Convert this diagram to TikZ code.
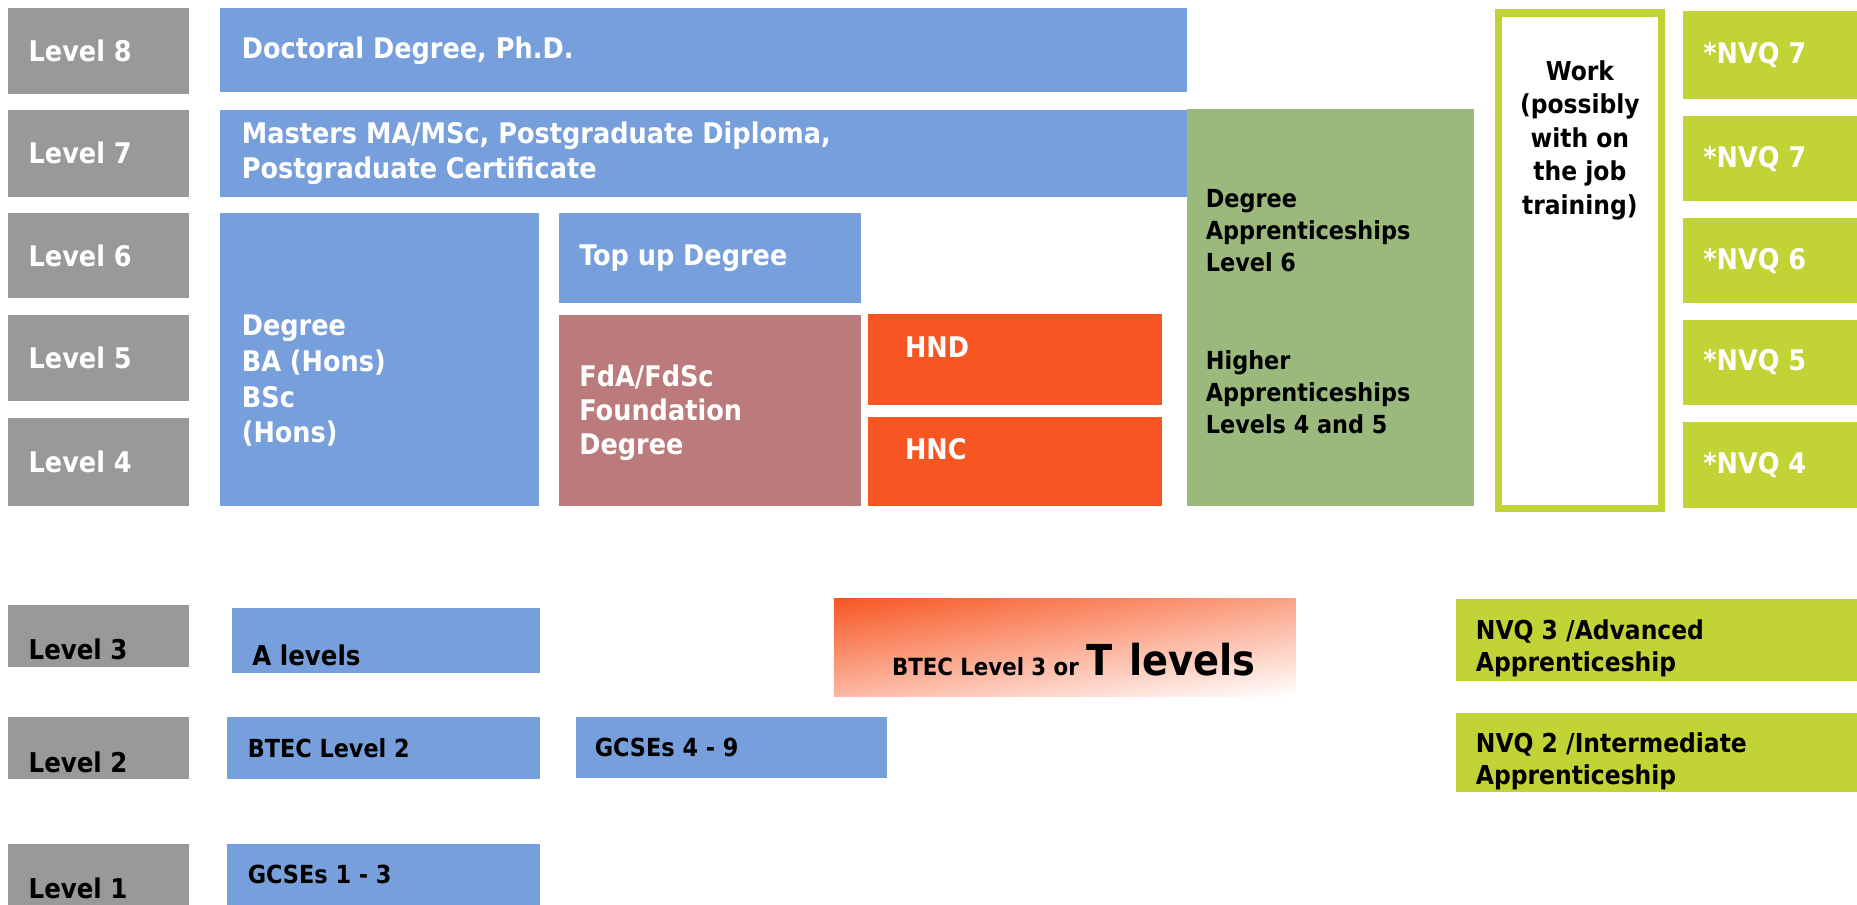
\documentclass[tikz,border=0pt]{standalone}
\usepackage{fontspec}
\setmainfont{DejaVu Sans Condensed Bold}
\usetikzlibrary{shadings}
\definecolor{lvlgrey}{RGB}{153,153,153}
\definecolor{uniblue}{RGB}{118,159,219}
\definecolor{fdmauve}{RGB}{187,122,123}
\definecolor{hnorange}{RGB}{247,86,34}
\definecolor{apprgreen}{RGB}{155,184,125}
\definecolor{nvqlime}{RGB}{194,211,53}

\begin{document}
\begin{tikzpicture}[x=1pt,y=-1pt,
    box/.style={rectangle,anchor=north west,inner sep=0pt,outer sep=0pt},
    lvl/.style={box,fill=lvlgrey,minimum width=153pt},
    lbl/.style={anchor=west,inner sep=0pt,align=left,text=white,
      font=\fontsize{24}{29}\selectfont},
    dlbl/.style={lbl,text=black}]
  \useasboundingbox (0,0) rectangle (1568,764);
  % level column
  \path
    (7,7) node[lvl,minimum height=72pt] (lv8) {}
    (7,93) node[lvl,minimum height=73pt] (lv7) {}
    (7,180) node[lvl,minimum height=72pt] (lv6) {}
    (7,266) node[lvl,minimum height=73pt] (lv5) {}
    (7,353) node[lvl,minimum height=74pt] (lv4) {}
    (7,511) node[lvl,minimum height=52pt] (lv3) {}
    (7,605) node[lvl,minimum height=53pt] (lv2) {}
    (7,713) node[lvl,minimum height=51pt] (lv1) {};
  \node[lbl] (lv8t) at ([xshift=17pt]lv8.west) {Level 8};
  \node[lbl] (lv7t) at ([xshift=17pt]lv7.west) {Level 7};
  \node[lbl] (lv6t) at ([xshift=17pt]lv6.west) {Level 6};
  \node[lbl] (lv5t) at ([xshift=17pt]lv5.west) {Level 5};
  \node[lbl] (lv4t) at ([xshift=17pt]lv4.west) {Level 4};
  \node[dlbl,anchor=base west,font=\fontsize{23}{28}\selectfont] (lv3t) at ([xshift=17pt,yshift=6pt]lv3.south west) {Level 3};
  \node[dlbl,anchor=base west,font=\fontsize{23}{28}\selectfont] (lv2t) at ([xshift=17pt,yshift=6pt]lv2.south west) {Level 2};
  \node[dlbl,anchor=base west,font=\fontsize{23}{28}\selectfont] (lv1t) at ([xshift=17pt,yshift=5pt]lv1.south west) {Level 1};

  % higher education
  \path
    (186,7) node[box,fill=uniblue,minimum width=816pt,minimum height=71pt] (phd) {}
    (186,93) node[box,fill=uniblue,minimum width=816pt,minimum height=73pt] (ma) {}
    (186,180) node[box,fill=uniblue,minimum width=269pt,minimum height=247pt] (deg) {}
    (472,180) node[box,fill=uniblue,minimum width=255pt,minimum height=76pt] (topup) {}
    (472,266) node[box,fill=fdmauve,minimum width=255pt,minimum height=161pt] (fd) {}
    (733,265) node[box,fill=hnorange,minimum width=248pt,minimum height=77pt] (hnd) {}
    (733,352) node[box,fill=hnorange,minimum width=248pt,minimum height=75pt] (hnc) {};
  \node[lbl] (phdt) at ([xshift=18pt]phd.west) {Doctoral Degree, Ph.D.};
  \node[lbl] (mat) at ([xshift=18pt]ma.west) {Masters MA/MSc, Postgraduate Diploma,\\Postgraduate Certificate};
  \node[lbl,font=\fontsize{24}{30}\selectfont] (degt) at ([xshift=18pt,yshift=-18pt]deg.west) {Degree\\BA (Hons)\\BSc\\(Hons)};
  \node[lbl] (topupt) at ([xshift=17pt]topup.west) {Top up Degree};
  \node[lbl] (fdt) at ([xshift=17pt,yshift=-2pt]fd.west) {FdA/FdSc\\Foundation\\Degree};
  \node[lbl] (hndt) at ([xshift=31pt,yshift=10pt]hnd.west) {HND};
  \node[lbl] (hnct) at ([xshift=31pt,yshift=10pt]hnc.west) {HNC};

  % apprenticeships and work
  \node[box,fill=apprgreen,minimum width=243pt,minimum height=335pt] (appr) at (1002,92) {};
  \node[dlbl,font=\fontsize{21}{27}\selectfont] (degapp) at ([xshift=16pt,yshift=-103pt]appr.north west) {Degree\\Apprenticeships\\Level 6};
  \node[dlbl,font=\fontsize{21}{27}\selectfont] (highapp) at ([xshift=16pt,yshift=-239pt]appr.north west) {Higher\\Apprenticeships\\Levels 4 and 5};
  \node[box,draw=nvqlime,fill=white,line width=6pt,minimum width=138pt,minimum height=418pt] (work) at (1265,11) {};
  \node[dlbl,anchor=center,align=center,font=\fontsize{22}{28.3}\selectfont] (workt) at ([yshift=-107.5pt]work.north) {Work\\(possibly\\with on\\the job\\training)};

  % nvq column
  \path
    (1421,9) node[box,fill=nvqlime,minimum width=147pt,minimum height=75pt] (nvq7a) {}
    (1421,98) node[box,fill=nvqlime,minimum width=147pt,minimum height=72pt] (nvq7b) {}
    (1421,184) node[box,fill=nvqlime,minimum width=147pt,minimum height=72pt] (nvq6) {}
    (1421,270) node[box,fill=nvqlime,minimum width=147pt,minimum height=72pt] (nvq5) {}
    (1421,356) node[box,fill=nvqlime,minimum width=147pt,minimum height=73pt] (nvq4) {};
  \node[lbl] (nvq7at) at ([xshift=17pt]nvq7a.west) {*NVQ 7};
  \node[lbl] (nvq7bt) at ([xshift=17pt]nvq7b.west) {*NVQ 7};
  \node[lbl] (nvq6t) at ([xshift=17pt]nvq6.west) {*NVQ 6};
  \node[lbl] (nvq5t) at ([xshift=17pt]nvq5.west) {*NVQ 5};
  \node[lbl] (nvq4t) at ([xshift=17pt]nvq4.west) {*NVQ 4};

  % levels 1 to 3
  \path
    (196,513) node[box,fill=uniblue,minimum width=260pt,minimum height=55pt] (alev) {}
    (192,605) node[box,fill=uniblue,minimum width=264pt,minimum height=53pt] (btec2) {}
    (486,605) node[box,fill=uniblue,minimum width=263pt,minimum height=52pt] (gcse49) {}
    (192,713) node[box,fill=uniblue,minimum width=264pt,minimum height=51pt] (gcse13) {}
    (704,505) node[box,shade,upper left=hnorange,upper right=hnorange!55,
      lower left=hnorange!42,lower right=white,minimum width=390pt,minimum height=83pt] (btec3) {}
    (1229,506) node[box,fill=nvqlime,minimum width=339pt,minimum height=69pt] (nvq3) {}
    (1229,602) node[box,fill=nvqlime,minimum width=339pt,minimum height=67pt] (nvq2) {};
  \node[dlbl,anchor=base west,font=\fontsize{23}{28}\selectfont] (alevt) at ([xshift=17pt,yshift=6pt]alev.south west) {A levels};
  \node[dlbl,font=\fontsize{21}{26}\selectfont] (btec2t) at ([xshift=17pt]btec2.west) {BTEC Level 2};
  \node[dlbl,font=\fontsize{21}{26}\selectfont] (gcse49t) at ([xshift=16pt]gcse49.west) {GCSEs 4 - 9};
  \node[dlbl,font=\fontsize{21}{26}\selectfont] (gcse13t) at ([xshift=17pt]gcse13.west) {GCSEs 1 - 3};
  \node[dlbl,anchor=base west,font=\fontsize{20}{24}\selectfont] (btec3t) at ([xshift=49pt,yshift=18pt]btec3.south west)
    {BTEC Level 3 or {\fontsize{36}{42}\selectfont T\hspace{14pt}levels}};
  \node[dlbl,font=\fontsize{22}{27}\selectfont] (nvq3t) at ([xshift=17pt,yshift=-7pt]nvq3.west) {NVQ 3 /Advanced\\Apprenticeship};
  \node[dlbl,font=\fontsize{22}{27}\selectfont] (nvq2t) at ([xshift=17pt,yshift=-7pt]nvq2.west) {NVQ 2 /Intermediate\\Apprenticeship};
\end{tikzpicture}
\end{document}
